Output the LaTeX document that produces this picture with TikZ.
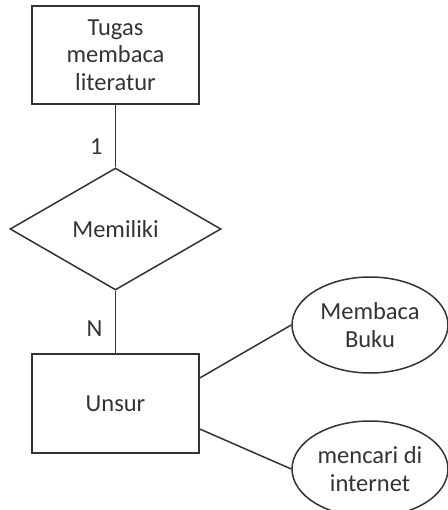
\documentclass[tikz,border=0pt]{standalone}
\usepackage{fontspec}
\setmainfont{Carlito}
\usetikzlibrary{shapes.geometric}

\begin{document}
\begin{tikzpicture}[x=1pt, y=-1pt, line width=1.5pt, draw=black!80,
        font=\fontsize{24.5}{27.5}\selectfont, text=black!80]
        \useasboundingbox (0,0) rectangle (447,510);
        \node[draw, rectangle, align=center, minimum width=167pt, minimum height=98pt] (tugas) at (115.5,55) {Tugas\\membaca\\literatur};
        \node[draw, diamond, aspect=1.73, inner sep=0pt, minimum width=211pt, minimum height=122pt] (memiliki) at (115.5,229) {Memiliki};
        \node[draw, rectangle, minimum width=167pt, minimum height=99pt] (unsur) at (115.5,403.5) {Unsur};
        \node[draw, ellipse, align=center, inner sep=0pt, minimum width=156pt, minimum height=96pt] (buku) at (370,325) {Membaca\\Buku};
        \node[draw, ellipse, align=center, inner sep=0pt, minimum width=156pt, minimum height=96pt] (internet) at (370,469) {mencari di\\internet};

        \draw (tugas) -- node[pos=0.67, left=9pt] {1} (memiliki);
        \draw (memiliki) -- node[pos=0.6, left=9pt] {N} (unsur);
        \draw ([yshift=25.5pt]unsur.east) -- (buku.west);
        \draw ([yshift=-25.5pt]unsur.east) -- (internet.west);
    \end{tikzpicture}
\end{document}
